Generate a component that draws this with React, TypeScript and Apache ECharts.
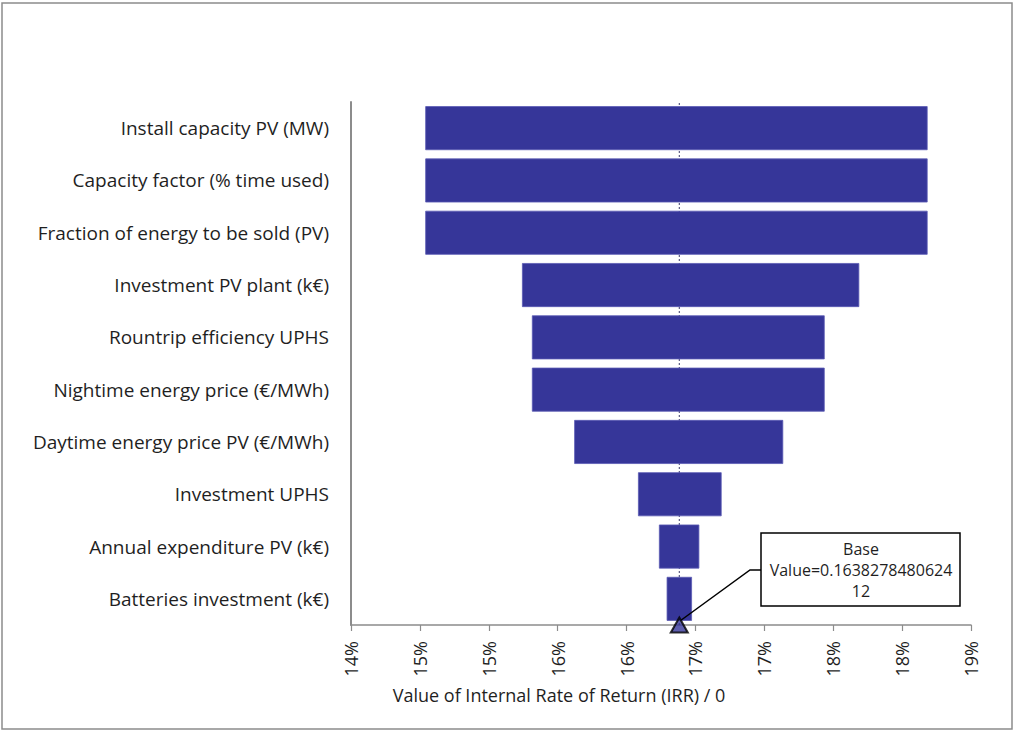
import React, { useEffect, useRef } from "react";
import * as echarts from "echarts";

const categories = [
  "Install capacity PV (MW)",
  "Capacity factor (% time used)",
  "Fraction of energy to be sold (PV)",
  "Investment PV plant (k€)",
  "Rountrip efficiency UPHS",
  "Nightime energy price (€/MWh)",
  "Daytime energy price PV (€/MWh)",
  "Investment UPHS",
  "Annual expenditure PV (k€)",
  "Batteries investment (k€)",
];
const lowValues = [0.14539, 0.14539, 0.14539, 0.15241, 0.15313, 0.15313, 0.1562, 0.16083, 0.16235, 0.16291];
const highValues = [0.18185, 0.18185, 0.18185, 0.17689, 0.17438, 0.17438, 0.17137, 0.1669, 0.16528, 0.16475];
const baseValue = 0.163827848062412;
const tickLabels = ["14%", "15%", "15%", "16%", "16%", "17%", "17%", "18%", "18%", "19%"];
const axisMin = 0.14;
const axisMax = 0.185;
const axisInterval = 0.005;

const FONT = "'Open Sans'";
const TEXT = "#1f1f1f";

export default function App() {
  const ref = useRef<HTMLDivElement>(null);
  useEffect(() => {
    document.body.style.margin = "0";
    const chart = echarts.init(ref.current!, null, { renderer: "svg" });
    const option: any = {
      animation: false,
      backgroundColor: "#ffffff",
      textStyle: { fontFamily: FONT },
      grid: { left: 351, top: 102, right: 43, bottom: 107, containLabel: false },
      xAxis: {
        type: "value",
        min: axisMin,
        max: axisMax,
        interval: axisInterval,
        axisLine: { show: true, lineStyle: { color: "#8c8c8c", width: 1.5 } },
        axisTick: { show: true, length: 6, lineStyle: { color: "#8c8c8c", width: 1.2 } },
        splitLine: { show: false },
        axisLabel: {
          rotate: 90,
          margin: 16,
          color: TEXT,
          fontFamily: FONT,
          fontSize: 18,
          formatter: (v: number) => tickLabels[Math.round((v - axisMin) / axisInterval)] ?? "",
        },
      },
      yAxis: [
        {
          type: "category",
          inverse: true,
          data: categories,
          axisLine: { show: true, lineStyle: { color: "#8c8c8c", width: 2 } },
          axisTick: { show: false },
          axisLabel: { margin: 22, color: TEXT, fontFamily: FONT, fontSize: 19 },
        },
        { type: "value", min: 0, max: 1, show: false },
      ],
      series: [
        {
          type: "bar",
          stack: "tornado",
          data: lowValues,
          itemStyle: { color: "transparent" },
          barWidth: 44,
          silent: true,
        },
        {
          type: "bar",
          stack: "tornado",
          data: highValues.map((h, i) => h - lowValues[i]),
          barWidth: 44,
          itemStyle: { color: "#363699", borderColor: "#5a5ab4", borderWidth: 0.8 },
          z: 3,
        },
        {
          type: "line",
          yAxisIndex: 1,
          data: [[baseValue, 0], [baseValue, 1]],
          symbol: "none",
          lineStyle: { type: [2, 2], color: "#3a3a6a", width: 1 },
          z: 2,
          silent: true,
        },
        {
          type: "scatter",
          yAxisIndex: 1,
          data: [[baseValue, 0]],
          symbol: "triangle",
          symbolSize: [17, 15],
          symbolOffset: [0, 0],
          itemStyle: { color: "#363699", borderColor: "#000000", borderWidth: 2 },
          clip: false,
          z: 5,
        },
      ],
      graphic: [
        {
          type: "rect",
          shape: { x: 2, y: 3, width: 1010, height: 726 },
          style: { fill: "none", stroke: "#8c8c8c", lineWidth: 1.5 },
          silent: true,
        },
        {
          type: "text",
          x: 559,
          y: 695,
          style: {
            text: "Value of Internal Rate of Return (IRR) / 0",
            fill: TEXT,
            font: `18px ${FONT}`,
            align: "center",
            verticalAlign: "middle",
          },
        },
        {
          type: "rect",
          shape: { x: 761, y: 533, width: 199, height: 73 },
          style: { fill: "#ffffff", stroke: "#000000", lineWidth: 1.5 },
          z: 10,
        },
        {
          type: "text",
          x: 861,
          y: 570,
          z: 11,
          style: {
            text: "Base\nValue=0.1638278480624\n12",
            fill: TEXT,
            font: `16px ${FONT}`,
            lineHeight: 21,
            align: "center",
            verticalAlign: "middle",
          },
        },
      ],
    };
    chart.setOption(option);
    const p = chart.convertToPixel({ xAxisIndex: 0, yAxisIndex: 1 } as any, [baseValue, 0]) as number[];
    chart.setOption({
      graphic: [
        ...option.graphic,
        {
          type: "polyline",
          z: 9,
          shape: { points: [[761, 570], [750, 570], [p[0] + 2, p[1] - 5]] },
          style: { fill: "none", stroke: "#000000", lineWidth: 1.5 },
        },
      ],
    });
    return () => chart.dispose();
  }, []);
  return <div ref={ref} style={{ width: 1014, height: 732 }} />;
}
